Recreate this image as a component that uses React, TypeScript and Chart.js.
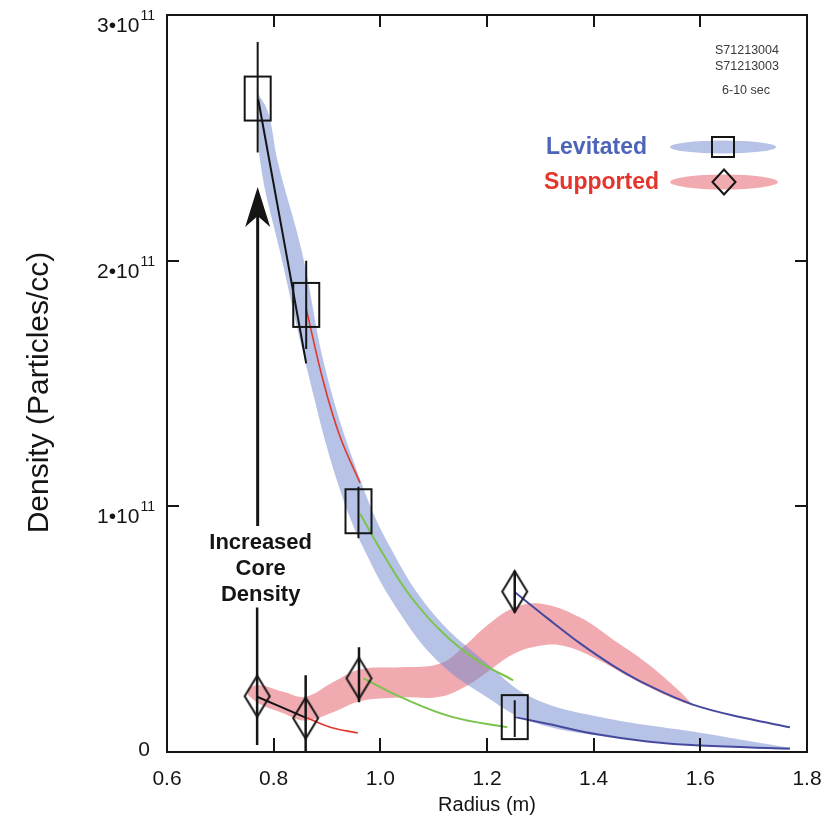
import React, { useEffect, useRef } from 'react';
import { Chart, registerables } from 'chart.js';

Chart.register(...registerables);

const FONT = "'Liberation Sans', Arial, Helvetica, sans-serif";

// Radius in m, density in units of 10^11 particles/cc
const levitatedRadius = [0.770, 0.861, 0.959, 1.252];
const levitatedDensity = [2.66, 1.82, 0.98, 0.142];
const levitatedErrLow = [2.44, 1.64, 0.87, 0.061];
const levitatedErrHigh = [2.89, 2.0, 1.08, 0.211];

const supportedRadius = [0.769, 0.86, 0.96, 1.252];
const supportedDensity = [0.227, 0.138, 0.3, 0.653];
const supportedErrLow = [0.028, 0.0, 0.203, 0.568];
const supportedErrHigh = [0.588, 0.312, 0.426, 0.738];

// Shaded band, levitated
const levBandUpperX = [0.771, 0.79, 0.808, 0.853, 0.898, 0.962, 1.018, 1.099, 1.2, 1.281, 1.412, 1.599, 1.768];
const levBandUpperY = [2.68, 2.6, 2.4, 2.036, 1.55, 1.11, 0.835, 0.564, 0.361, 0.225, 0.142, 0.078, 0.016];
const levBandLowerX = [0.771, 0.775, 0.812, 0.866, 0.919, 0.968, 1.037, 1.112, 1.2, 1.281, 1.412, 1.599, 1.768];
const levBandLowerY = [2.66, 2.4, 2.036, 1.529, 1.103, 0.832, 0.564, 0.361, 0.223, 0.125, 0.066, 0.028, 0.008];

// Shaded band, supported
const supBandUpperX = [0.752, 0.774, 0.818, 0.859, 0.911, 0.962, 1.037, 1.112, 1.162, 1.2, 1.249, 1.299, 1.374, 1.436, 1.5, 1.562, 1.586];
const supBandUpperY = [0.26, 0.272, 0.245, 0.225, 0.284, 0.336, 0.345, 0.36, 0.44, 0.515, 0.585, 0.604, 0.548, 0.458, 0.361, 0.245, 0.191];
const supBandLowerX = [0.752, 0.774, 0.818, 0.859, 0.911, 0.962, 1.037, 1.112, 1.162, 1.2, 1.249, 1.299, 1.343, 1.406, 1.468, 1.53, 1.586];
const supBandLowerY = [0.231, 0.195, 0.158, 0.128, 0.162, 0.207, 0.222, 0.225, 0.27, 0.325, 0.398, 0.432, 0.432, 0.378, 0.304, 0.236, 0.187];

// Fit curves, levitated
const levFitAX = [0.771, 0.816, 0.861];
const levFitAY = [2.657, 2.12, 1.582];
const levFitBX = [0.861, 0.893, 0.924, 0.962];
const levFitBY = [1.805, 1.509, 1.286, 1.095];
const levFitCX = [0.962, 1.005, 1.056, 1.118, 1.181, 1.249];
const levFitCY = [0.97, 0.807, 0.635, 0.483, 0.373, 0.292];
const levFitDX = [1.253, 1.313, 1.406, 1.5, 1.599, 1.768];
const levFitDY = [0.142, 0.115, 0.072, 0.043, 0.026, 0.014];

// Fit curves, supported
const supFitAX = [0.769, 0.86];
const supFitAY = [0.225, 0.14];
const supFitBX = [0.859, 0.906, 0.958];
const supFitBY = [0.142, 0.101, 0.077];
const supFitCX = [0.968, 1.043, 1.136, 1.238];
const supFitCY = [0.3, 0.219, 0.142, 0.101];
const supFitDX = [1.253, 1.313, 1.374, 1.436, 1.5, 1.586, 1.688, 1.768];
const supFitDY = [0.649, 0.545, 0.443, 0.352, 0.274, 0.193, 0.136, 0.101];

const xTickLabels = ['0.6', '0.8', '1.0', '1.2', '1.4', '1.6', '1.8'];
const yTickValues = [0, 1, 2, 3];
const yTickBase = ['0', '1\u202210', '2\u202210', '3\u202210'];
const yTickExp = ['', '11', '11', '11'];

// "Increased Core Density" arrow
const arrowRadius = 0.77;
const arrowFrom = 0.92;
const arrowTo = 2.3;
const arrowText = ['Increased', 'Core', 'Density'];

const shotLabels = ['S71213004', 'S71213003', '6-10 sec'];
const legendLabels = ['Levitated', 'Supported'];

const BLUE_BAND = 'rgba(110,135,205,0.5)';
const PINK_BAND = 'rgba(235,130,138,0.68)';
const RED = '#e2372d';
const GREEN = '#7cc34e';
const NAVY = '#464a9e';
const BLACK = '#151515';

const pts = (xs: number[], ys: number[]) => xs.map((x, i) => ({ x, y: ys[i] }));

function makeRect(w: number, h: number, lw: number) {
  const c = document.createElement('canvas');
  c.width = w + lw * 2;
  c.height = h + lw * 2;
  const g = c.getContext('2d')!;
  g.strokeStyle = BLACK;
  g.lineWidth = lw;
  g.strokeRect(lw, lw, w, h);
  return c;
}

function makeDiamond(w: number, h: number, lw: number) {
  const c = document.createElement('canvas');
  c.width = w + lw * 2;
  c.height = h + lw * 2;
  const g = c.getContext('2d')!;
  g.strokeStyle = BLACK;
  g.lineWidth = lw;
  g.beginPath();
  g.moveTo(lw + w / 2, lw);
  g.lineTo(lw + w, lw + h / 2);
  g.lineTo(lw + w / 2, lw + h);
  g.lineTo(lw, lw + h / 2);
  g.closePath();
  g.stroke();
  return c;
}

function errorBarData(xs: number[], lo: number[], hi: number[]) {
  const out: any[] = [];
  xs.forEach((x, i) => {
    out.push({ x, y: lo[i] }, { x, y: hi[i] }, { x, y: null });
  });
  return out;
}

const decorPlugin = {
  id: 'decor',
  afterDatasetsDraw(chart: any) {
    const { ctx, chartArea: a, scales } = chart;
    const xs = scales.x;
    const ys = scales.y;
    ctx.save();

    // frame
    ctx.strokeStyle = BLACK;
    ctx.lineWidth = 2;
    ctx.strokeRect(a.left, a.top, a.right - a.left, a.bottom - a.top);

    // inward ticks
    ctx.beginPath();
    xs.ticks.forEach((t: any) => {
      if (t.value <= xs.min + 1e-6 || t.value >= xs.max - 1e-6) return;
      const px = Math.round(xs.getPixelForValue(t.value));
      ctx.moveTo(px, a.bottom);
      ctx.lineTo(px, a.bottom - 14);
      ctx.moveTo(px, a.top);
      ctx.lineTo(px, a.top + 12);
    });
    ys.ticks.forEach((t: any) => {
      if (t.value <= ys.min + 1e-6 || t.value >= ys.max - 1e-6) return;
      const py = Math.round(ys.getPixelForValue(t.value));
      ctx.moveTo(a.left, py);
      ctx.lineTo(a.left + 12, py);
      ctx.moveTo(a.right, py);
      ctx.lineTo(a.right - 12, py);
    });
    ctx.stroke();

    // y tick labels with superscript exponent
    ctx.fillStyle = BLACK;
    ctx.textBaseline = 'alphabetic';
    ctx.textAlign = 'right';
    yTickValues.forEach((v, i) => {
      const py = ys.getPixelForValue(v);
      const rightX = a.left - 12;
      if (yTickExp[i]) {
        ctx.font = `14px ${FONT}`;
        const ew = ctx.measureText(yTickExp[i]).width;
        ctx.fillText(yTickExp[i], rightX, py + 5);
        ctx.font = `21px ${FONT}`;
        ctx.fillText(yTickBase[i], rightX - ew - 1, py + 17);
      } else {
        ctx.font = `21px ${FONT}`;
        ctx.fillText(yTickBase[i], rightX - 5, py + 4);
      }
    });

    // y axis title
    ctx.save();
    ctx.translate(a.left - 127, (a.top + a.bottom) / 2 + 9);
    ctx.rotate(-Math.PI / 2);
    ctx.font = `30px ${FONT}`;
    ctx.textAlign = 'center';
    ctx.textBaseline = 'middle';
    ctx.fillText('Density (Particles/cc)', 0, 0);
    ctx.restore();

    // arrow
    const ax = xs.getPixelForValue(arrowRadius);
    const ay0 = ys.getPixelForValue(arrowFrom);
    const ay1 = ys.getPixelForValue(arrowTo);
    ctx.strokeStyle = BLACK;
    ctx.lineWidth = 3;
    ctx.beginPath();
    ctx.moveTo(ax, ay0);
    ctx.lineTo(ax, ay1 + 26);
    ctx.stroke();
    ctx.fillStyle = BLACK;
    ctx.beginPath();
    ctx.moveTo(ax, ay1);
    ctx.lineTo(ax + 12.5, ay1 + 40);
    ctx.lineTo(ax, ay1 + 29);
    ctx.lineTo(ax - 12.5, ay1 + 40);
    ctx.closePath();
    ctx.fill();

    ctx.font = `bold 22px ${FONT}`;
    ctx.textAlign = 'center';
    ctx.textBaseline = 'middle';
    arrowText.forEach((s, i) => ctx.fillText(s, ax + 3, ay0 + 17 + i * 26));

    // shot numbers
    ctx.fillStyle = '#3a3a3a';
    ctx.font = `12.5px ${FONT}`;
    ctx.fillText(shotLabels[0], a.right - 60, a.top + 36);
    ctx.fillText(shotLabels[1], a.right - 60, a.top + 52);
    ctx.fillText(shotLabels[2], a.right - 61, a.top + 76);

    // legend
    const lx = a.right - 82;
    const ly1 = a.top + 132;
    const ly2 = a.top + 167;
    ctx.fillStyle = BLUE_BAND;
    ctx.beginPath();
    ctx.ellipse(lx - 2, ly1, 53, 6.5, 0, 0, Math.PI * 2);
    ctx.fill();
    ctx.fillStyle = PINK_BAND;
    ctx.beginPath();
    ctx.ellipse(lx - 1, ly2, 54, 7.5, 0, 0, Math.PI * 2);
    ctx.fill();
    ctx.strokeStyle = BLACK;
    ctx.lineWidth = 2;
    ctx.strokeRect(lx - 13, ly1 - 10, 22, 20);
    ctx.beginPath();
    ctx.moveTo(lx - 1, ly2 - 12.5);
    ctx.lineTo(lx + 10.5, ly2);
    ctx.lineTo(lx - 1, ly2 + 12.5);
    ctx.lineTo(lx - 12.5, ly2);
    ctx.closePath();
    ctx.stroke();
    ctx.font = `bold 23px ${FONT}`;
    ctx.textAlign = 'right';
    ctx.textBaseline = 'middle';
    ctx.fillStyle = '#4d64b8';
    ctx.fillText(legendLabels[0], lx - 78, ly1 + 1);
    ctx.fillStyle = '#e4352c';
    ctx.fillText(legendLabels[1], lx - 66, ly2 + 1);

    ctx.restore();
  },
};

export default function App() {
  const ref = useRef<HTMLCanvasElement | null>(null);

  useEffect(() => {
    if (!ref.current) return;
    const squareImg = makeRect(26, 44, 2);
    const diamondImg = makeDiamond(25, 41, 2);

    const band = (xs: number[], ys: number[], fill: any, order: number, color: string) => ({
      data: pts(xs, ys),
      showLine: true,
      pointRadius: 0,
      borderWidth: 1,
      borderColor: 'rgba(0,0,0,0)',
      backgroundColor: color,
      fill,
      tension: 0.4,
      order,
    });
    const fit = (xs: number[], ys: number[], color: string, width = 2) => ({
      data: pts(xs, ys),
      showLine: true,
      pointRadius: 0,
      borderWidth: width,
      borderColor: color,
      fill: false,
      tension: 0.4,
      order: 10,
    });

    const datasets: any[] = [
      band(supBandLowerX, supBandLowerY, false, 30, PINK_BAND),
      band(supBandUpperX, supBandUpperY, '-1', 29, PINK_BAND),
      band(levBandLowerX, levBandLowerY, false, 28, BLUE_BAND),
      band(levBandUpperX, levBandUpperY, '-1', 27, BLUE_BAND),
      fit(levFitAX, levFitAY, BLACK, 2),
      fit(levFitBX, levFitBY, RED, 1.6),
      fit(levFitCX, levFitCY, GREEN, 2),
      fit(levFitDX, levFitDY, NAVY, 2),
      fit(supFitAX, supFitAY, BLACK, 2),
      fit(supFitBX, supFitBY, RED, 1.6),
      fit(supFitCX, supFitCY, GREEN, 2),
      fit(supFitDX, supFitDY, NAVY, 2),
      {
        data: errorBarData(levitatedRadius, levitatedErrLow, levitatedErrHigh),
        showLine: true, spanGaps: false, pointRadius: 0, borderWidth: 2, borderColor: BLACK, order: 5,
      },
      {
        data: errorBarData(supportedRadius, supportedErrLow, supportedErrHigh),
        showLine: true, spanGaps: false, pointRadius: 0, borderWidth: 2.5, borderColor: BLACK, order: 5,
      },
      {
        label: 'Levitated',
        data: pts(levitatedRadius, levitatedDensity),
        showLine: false, pointStyle: squareImg, pointRadius: 14, order: 1,
      },
      {
        label: 'Supported',
        data: pts(supportedRadius, supportedDensity),
        showLine: false, pointStyle: diamondImg, pointRadius: 14, order: 1,
      },
    ];

    const chart = new Chart(ref.current, {
      type: 'scatter',
      data: { datasets },
      options: {
        animation: false,
        responsive: false,
        events: [],
        layout: { padding: { top: 13, right: 31, left: 0, bottom: 0 } },
        plugins: { legend: { display: false }, tooltip: { enabled: false } },
        scales: {
          x: {
            type: 'linear',
            min: 0.6,
            max: 1.8,
            ticks: {
              stepSize: 0.2,
              callback: (_v: any, i: number) => xTickLabels[i],
              font: { family: FONT, size: 21 },
              color: BLACK,
              padding: 7,
              maxRotation: 0,
            },
            grid: { display: false },
            border: { display: false },
            title: {
              display: true,
              text: 'Radius (m)',
              font: { family: FONT, size: 20 },
              color: BLACK,
              padding: { top: 0, bottom: 4 },
            },
            afterFit: (s: any) => { s.height = 69; },
          },
          y: {
            type: 'linear',
            min: 0,
            max: 3,
            ticks: { stepSize: 1, display: false },
            grid: { display: false },
            border: { display: false },
            afterFit: (s: any) => { s.width = 167; },
          },
        },
      } as any,
      plugins: [decorPlugin],
    });
    return () => chart.destroy();
  }, []);

  return (
    <div style={{ position: 'fixed', left: 0, top: 0, width: 838, height: 821, background: '#fff' }}>
      <canvas ref={ref} width={838} height={821} style={{ display: 'block' }} />
    </div>
  );
}
